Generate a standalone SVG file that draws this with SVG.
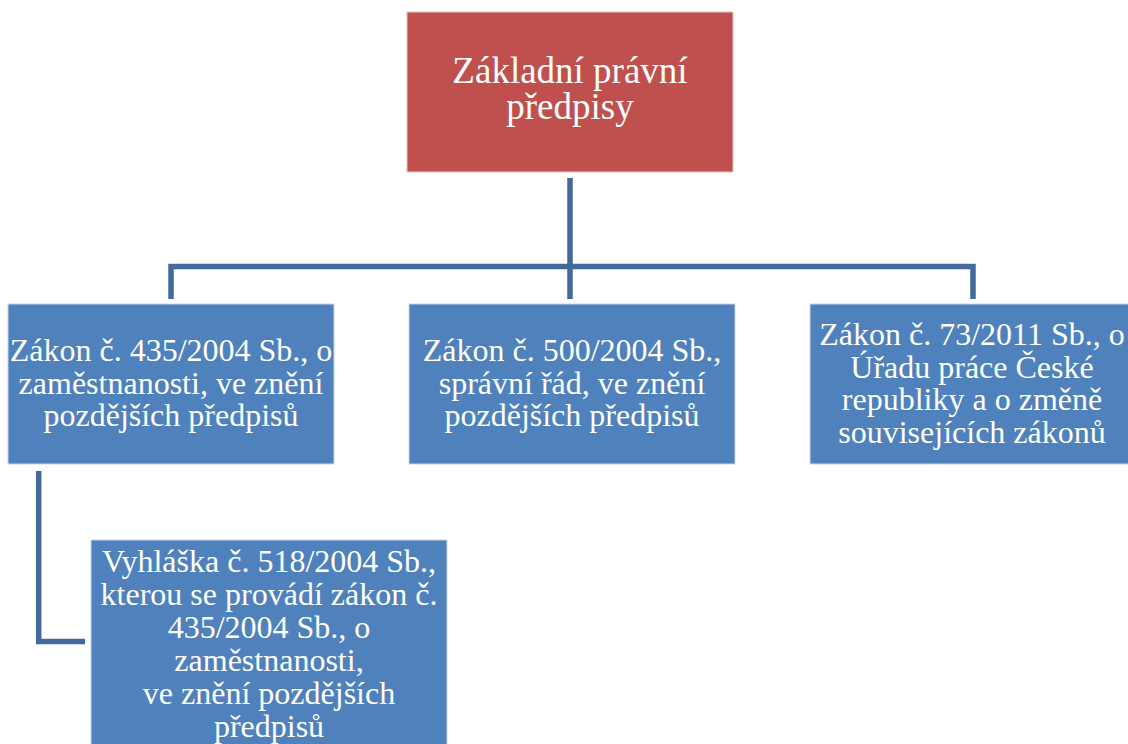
<svg xmlns="http://www.w3.org/2000/svg" width="1128" height="744" viewBox="0 0 1128 744">
<style>
.box{fill:#4F81BD;stroke:#C9D6EA;stroke-width:1}
.root{fill:#C0504D;stroke:#E8C4C3;stroke-width:1}
.t{font-family:"Liberation Serif","Times New Roman",serif;fill:#FFFFFF;text-anchor:middle;font-size:32px}
.tr{font-size:37px}
.c{fill:none;stroke:#41699B;stroke-width:5.5;stroke-linejoin:miter;stroke-linecap:butt}
</style>
<rect width="1128" height="744" fill="#FFFFFF"/>
<g id="connectors">
<polyline class="c" points="570,178 570,299"/>
<polyline class="c" points="171,299 171,266.5 973,266.5 973,299"/>
<polyline class="c" points="38.7,471 38.7,641.5 85,641.5"/>
</g>
<g id="root">
<rect class="root" x="407" y="12" width="326" height="160"/>
<text class="t tr" x="570" y="83">Základní právní</text>
<text class="t tr" x="570" y="119">předpisy</text>
</g>
<g id="zakon435">
<rect class="box" x="8" y="304" width="326" height="160"/>
<text class="t" x="171" y="361">Zákon č. 435/2004 Sb., o</text>
<text class="t" x="171" y="393.5">zaměstnanosti, ve znění</text>
<text class="t" x="171" y="426">pozdějších předpisů</text>
</g>
<g id="zakon500">
<rect class="box" x="409" y="304" width="326" height="160"/>
<text class="t" x="572" y="361">Zákon č. 500/2004 Sb.,</text>
<text class="t" x="572" y="393.5">správní řád, ve znění</text>
<text class="t" x="572" y="426">pozdějších předpisů</text>
</g>
<g id="zakon73">
<rect class="box" x="810" y="304" width="326" height="160"/>
<text class="t" x="972" y="345">Zákon č. 73/2011 Sb., o</text>
<text class="t" x="972" y="377.5">Úřadu práce České</text>
<text class="t" x="972" y="410">republiky a o změně</text>
<text class="t" x="972" y="442.5">souvisejících zákonů</text>
</g>
<g id="vyhlaska518">
<rect class="box" x="91" y="540" width="356" height="220"/>
<text class="t" x="269" y="572">Vyhláška č. 518/2004 Sb.,</text>
<text class="t" x="269" y="605">kterou se provádí zákon č.</text>
<text class="t" x="269" y="638">435/2004 Sb., o</text>
<text class="t" x="269" y="671">zaměstnanosti,</text>
<text class="t" x="269" y="704">ve znění pozdějších</text>
<text class="t" x="269" y="737">předpisů</text>
</g>
</svg>
